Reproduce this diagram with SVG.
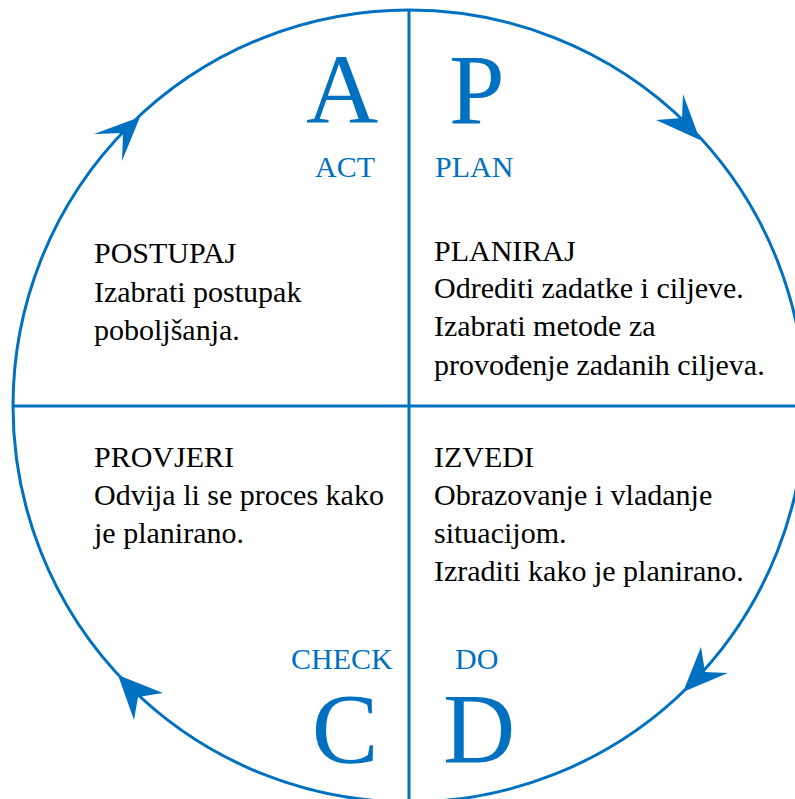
<svg xmlns="http://www.w3.org/2000/svg" width="795" height="799" viewBox="0 0 795 799" font-family="Liberation Serif, DejaVu Serif, serif">
<style>
.ln{fill:none;stroke:#0070C0;stroke-width:3}
.ah{fill:#0070C0}
.big{font-size:100px;fill:#0070C0}
.lab{font-size:30px;fill:#0070C0}
.body{font-size:30px;fill:#000}
</style>
<rect width="795" height="799" fill="#fff"/>
<g id="connectors">
<circle class="ln" cx="409" cy="406" r="396"/>
<line class="ln" x1="409" y1="10" x2="409" y2="802"/>
<line class="ln" x1="13" y1="406" x2="805" y2="406"/>
<polygon class="ah" points="700,140 683,94 682,118 656,120"/>
<polygon class="ah" points="683,692 701,647 705,672 728,673"/>
<polygon class="ah" points="118,675 163,693 138,697 134,720"/>
<polygon class="ah" points="140,117 94,134 123,133 122,161"/>
</g>
<g id="act">
<text class="big" x="342" y="123" text-anchor="middle">A</text>
<text class="lab" x="345" y="177" text-anchor="middle">ACT</text>
<text class="body" x="94" y="263">POSTUPAJ</text>
<text class="body" x="94" y="302">Izabrati postupak</text>
<text class="body" x="94" y="340">poboljšanja.</text>
</g>
<g id="plan">
<text class="big" x="449" y="123">P</text>
<text class="lab" x="435" y="177">PLAN</text>
<text class="body" x="434" y="261">PLANIRAJ</text>
<text class="body" x="434" y="298">Odrediti zadatke i ciljeve.</text>
<text class="body" x="434" y="336">Izabrati metode za</text>
<text class="body" x="434" y="375">provođenje zadanih ciljeva.</text>
</g>
<g id="check">
<text class="lab" x="291" y="669">CHECK</text>
<text class="big" x="345" y="762" text-anchor="middle">C</text>
<text class="body" x="94" y="467">PROVJERI</text>
<text class="body" x="94" y="505">Odvija li se proces kako</text>
<text class="body" x="94" y="543">je planirano.</text>
</g>
<g id="do">
<text class="lab" x="455" y="669">DO</text>
<text class="big" x="443" y="762">D</text>
<text class="body" x="434" y="467">IZVEDI</text>
<text class="body" x="434" y="505">Obrazovanje i vladanje</text>
<text class="body" x="434" y="543">situacijom.</text>
<text class="body" x="434" y="581">Izraditi kako je planirano.</text>
</g>
</svg>
